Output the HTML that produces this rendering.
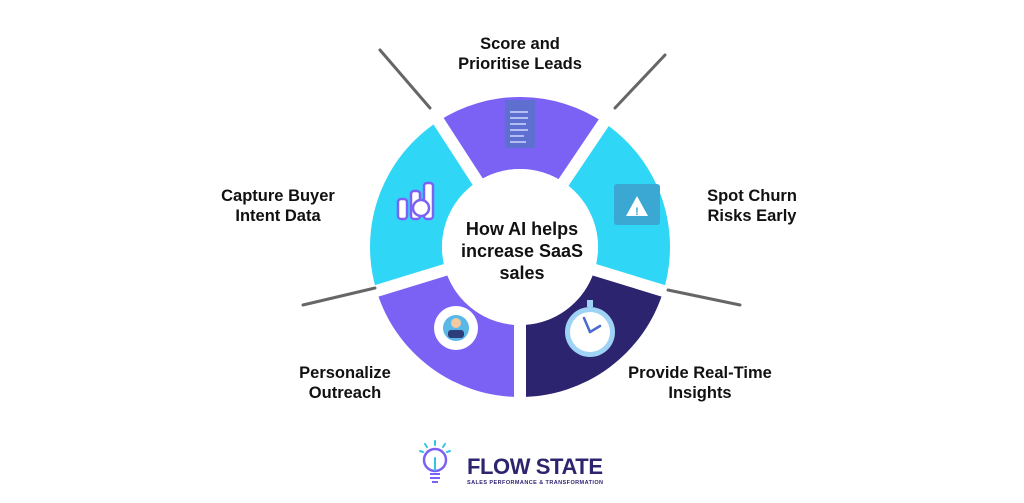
<!DOCTYPE html>
<html><head><meta charset="utf-8"><style>
html,body{margin:0;padding:0;background:#fff;}
body{width:1024px;height:503px;overflow:hidden;position:relative;font-family:"Liberation Sans",sans-serif;}
svg{position:absolute;left:0;top:0;}
</style></head><body>
<svg width="1024" height="503" viewBox="0 0 1024 503" xmlns="http://www.w3.org/2000/svg">
<path d="M438.3,121.2 A150,150 0 0 1 603.9,122.6 L563.6,182.3 A78,78 0 0 0 477.5,181.6 Z" fill="#7C62F4"/>
<path d="M603.9,122.6 A150,150 0 0 1 663.4,290.9 L594.6,269.8 A78,78 0 0 0 563.6,182.3 Z" fill="#2FD6F6"/>
<path d="M663.4,290.9 A150,150 0 0 1 520,397 L520,325 A78,78 0 0 0 594.6,269.8 Z" fill="#2D2470"/>
<path d="M520,397 A150,150 0 0 1 376.6,290.9 L445.4,269.8 A78,78 0 0 0 520,325 Z" fill="#7C62F4"/>
<path d="M376.6,290.9 A150,150 0 0 1 438.3,121.2 L477.5,181.6 A78,78 0 0 0 445.4,269.8 Z" fill="#2FD6F6"/>
<g stroke="#fff" stroke-width="12">
<line x1="520" y1="247" x2="430" y2="108"/>
<line x1="520" y1="247" x2="613" y2="109"/>
<line x1="520" y1="247" x2="680" y2="296"/>
<line x1="520" y1="247" x2="520" y2="430"/>
<line x1="520" y1="247" x2="360" y2="296"/>
</g>
<g stroke="#666" stroke-width="3" stroke-linecap="round">
<line x1="380" y1="50" x2="430" y2="108"/>
<line x1="615" y1="108" x2="665" y2="55"/>
<line x1="668" y1="290" x2="740" y2="305"/>
<line x1="303" y1="305" x2="375" y2="288"/>
</g>
<circle cx="520" cy="247" r="78" fill="#fff"/>
<rect x="505" y="100" width="30" height="48" fill="#5E6FD0"/>
<g stroke="#cfd8ff" stroke-width="1.5"><line x1="510" y1="112" x2="528" y2="112"/><line x1="510" y1="118" x2="528" y2="118"/><line x1="510" y1="124" x2="526" y2="124"/><line x1="510" y1="130" x2="528" y2="130"/><line x1="510" y1="136" x2="524" y2="136"/><line x1="510" y1="142" x2="526" y2="142"/></g>
<rect x="614" y="184" width="46" height="41" rx="3" fill="#3AA8D2"/>
<polygon points="637,196 648,216 626,216" fill="#fff"/>
<text x="637" y="215" font-size="11" font-weight="bold" text-anchor="middle" fill="#3AA8D2">!</text>
<g fill="#fff" stroke="#7C62F4" stroke-width="2.5"><rect x="398" y="199" width="9" height="20" rx="3"/><rect x="411" y="191" width="9" height="28" rx="3"/><rect x="424" y="183" width="9" height="36" rx="3"/><circle cx="421" cy="208" r="8"/></g>
<circle cx="456" cy="328" r="22" fill="#fff"/><circle cx="456" cy="328" r="13" fill="#5AB8E8"/><circle cx="456" cy="323" r="5" fill="#f3c9a0"/><rect x="448" y="330" width="16" height="8" rx="3" fill="#2D3E7A"/>
<circle cx="590" cy="332" r="25" fill="#9fd3f5"/><circle cx="590" cy="332" r="20" fill="#fff"/><rect x="587" y="300" width="6" height="7" fill="#9fd3f5"/>
<g stroke="#4a6ad0" stroke-width="2.5" stroke-linecap="round"><line x1="590" y1="332" x2="584" y2="318"/><line x1="590" y1="332" x2="600" y2="326"/></g>
<g font-family="Liberation Sans, sans-serif" font-weight="bold" fill="#111" text-anchor="middle">
<text x="522" y="235" font-size="18">How AI helps</text>
<text x="522" y="257" font-size="18">increase SaaS</text>
<text x="522" y="279" font-size="18">sales</text>
<g font-size="16.5">
<text x="520" y="49">Score and</text><text x="520" y="69">Prioritise Leads</text>
<text x="278" y="201">Capture Buyer</text><text x="278" y="221">Intent Data</text>
<text x="752" y="201">Spot Churn</text><text x="752" y="221">Risks Early</text>
<text x="345" y="378">Personalize</text><text x="345" y="398">Outreach</text>
<text x="700" y="378">Provide Real-Time</text><text x="700" y="398">Insights</text>
</g>
</g>
<circle cx="435" cy="460" r="11" fill="none" stroke="#7C62F4" stroke-width="2.5"/>
<g stroke="#2FC4E8" stroke-width="2" stroke-linecap="round"><line x1="435" y1="441" x2="435" y2="445"/><line x1="425" y1="444" x2="427" y2="447"/><line x1="445" y1="444" x2="443" y2="447"/><line x1="420" y1="451" x2="423" y2="452"/><line x1="450" y1="451" x2="447" y2="452"/><line x1="435" y1="458" x2="435" y2="470"/></g>
<g stroke="#7C62F4" stroke-width="2"><line x1="430" y1="474" x2="440" y2="474"/><line x1="430" y1="478" x2="440" y2="478"/><line x1="432" y1="482" x2="438" y2="482"/></g>
<text x="467" y="474" font-family="Liberation Sans, sans-serif" font-size="22" font-weight="bold" fill="#2D2470" textLength="136">FLOW STATE</text>
<text x="467" y="484" font-family="Liberation Sans, sans-serif" font-size="5.5" font-weight="bold" fill="#2D2470" textLength="136">SALES PERFORMANCE &amp; TRANSFORMATION</text>
</svg>
</body></html>
